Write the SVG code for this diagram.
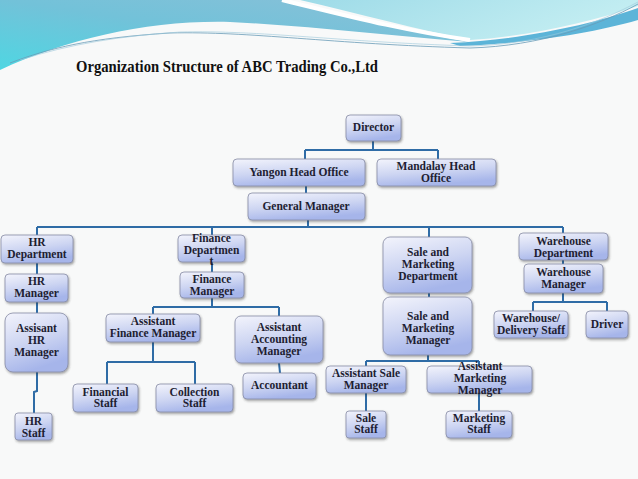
<svg xmlns="http://www.w3.org/2000/svg" width="638" height="479" viewBox="0 0 638 479">
<defs>
<linearGradient id="box" x1="0" y1="0" x2="0.35" y2="1">
<stop offset="0" stop-color="#f3f4fc"/>
<stop offset="0.55" stop-color="#cdd5f2"/>
<stop offset="1" stop-color="#a6b5ea"/>
</linearGradient>
<linearGradient id="tl" x1="1" y1="0" x2="0" y2="1">
<stop offset="0" stop-color="#8cc0d8"/>
<stop offset="0.5" stop-color="#72c2d9"/>
<stop offset="1" stop-color="#4fd6e2"/>
</linearGradient>
<linearGradient id="tr" x1="0" y1="0" x2="1" y2="0.3">
<stop offset="0" stop-color="#9edbe8"/>
<stop offset="1" stop-color="#c4eef2"/>
</linearGradient>
<filter id="sh" x="-10%" y="-10%" width="130%" height="140%">
<feDropShadow dx="1" dy="1.5" stdDeviation="1" flood-color="#333" flood-opacity="0.45"/>
</filter>
<style>
.n rect{fill:url(#box);stroke:#868ca4;stroke-width:0.8;filter:url(#sh)}
.n text{font-family:"Liberation Serif",serif;font-weight:bold;font-size:11.5px;fill:#1e1e32;text-anchor:middle}
#connectors path{fill:none;stroke:#2f6ca6;stroke-width:2}
.title{font-family:"Liberation Serif",serif;font-weight:bold;font-size:17.5px;fill:#111}
</style>
</defs>
<rect width="638" height="479" fill="#f8f9f9"/>
<g id="decor">
<path d="M300,0 H638 V6 C590,22 530,36 470,40 C420,30 360,14 300,0 Z" fill="url(#tr)"/>
<path d="M0,0 H285 C340,12 400,30 470,42 C390,36 310,26 230,22 C150,20 70,38 0,70 Z" fill="url(#tl)"/>
<path d="M282,0 C340,14 400,30 470,40" fill="none" stroke="#ffffff" stroke-width="4"/>
<path d="M450,43 C520,40 590,25 638,8 V20 C590,34 520,44 460,46 Z" fill="#5cb4d8"/>
<path d="M10,63 C50,48 90,38 170,33 C250,31 330,44 470,48 C540,46 600,25 638,4" fill="none" stroke="#6a9cb8" stroke-width="0.8"/>
<path d="M20,60 C70,44 120,36 180,32 C260,30 340,42 470,46 C545,44 600,22 638,2" fill="none" stroke="#9cc8da" stroke-width="0.6"/>
</g>
<text class="title" x="76" y="72" textLength="302" lengthAdjust="spacingAndGlyphs">Organization Structure of ABC Trading Co.,Ltd</text>
<g id="connectors">
<path d="M373,141 V150 M305,150 H438 M305,150 V159 M438,150 V159"/>
<path d="M306,186 V193"/>
<path d="M308,220 V227"/>
<path d="M37,227 H563"/>
<path d="M37,227 V235 M212,227 V235 M429,227 V237 M563,227 V233"/>
<path d="M37,263 V274 M37,302 V313"/>
<path d="M37,372 V391 L34,392 V413"/>
<path d="M212,262 V272"/>
<path d="M212,298 V307 M153,307 H279 M153,307 V314 M279,307 V316"/>
<path d="M153,342 V362 M107,362 H195 M107,362 V384 M195,362 V384"/>
<path d="M279,363 L280,373"/>
<path d="M429,293 V297"/>
<path d="M428,355 V361 M366,361 H479 M366,361 V366 M479,361 V366"/>
<path d="M366,393 V411 M479,393 V411"/>
<path d="M563,260 V264"/>
<path d="M563,293 V302 M533,302 H607 M533,302 V311 M607,302 V311"/>
</g>
<g id="director" class="n"><rect x="346" y="115" width="55" height="26" rx="4"/><text x="373.5" y="131">Director</text></g>
<g id="yangon" class="n"><rect x="233" y="159" width="132" height="27" rx="4"/><text x="299" y="176">Yangon Head Office</text></g>
<g id="mandalay" class="n"><rect x="377" y="159" width="119" height="27" rx="4"/><text x="436" y="170">Mandalay Head</text><text x="436" y="182">Office</text></g>
<g id="gm" class="n"><rect x="248" y="193" width="117" height="27" rx="4"/><text x="306" y="210">General Manager</text></g>
<g id="hr-dept" class="n"><rect x="1" y="235" width="72" height="28" rx="4"/><text x="37" y="246">HR</text><text x="37" y="258">Department</text></g>
<g id="hr-mgr" class="n"><rect x="5" y="274" width="63" height="28" rx="4"/><text x="36.5" y="285">HR</text><text x="36.5" y="297">Manager</text></g>
<g id="asst-hr-mgr" class="n"><rect x="5" y="313" width="63" height="59" rx="8"/><text x="36.5" y="332">Assisant</text><text x="36.5" y="344">HR</text><text x="36.5" y="356">Manager</text></g>
<g id="hr-staff" class="n"><rect x="15" y="413" width="37" height="27" rx="3"/><text x="33.5" y="425">HR</text><text x="33.5" y="437">Staff</text></g>
<g id="fin-dept" class="n"><rect x="178" y="235" width="67" height="27" rx="4"/><text x="211.5" y="242">Finance</text><text x="211.5" y="254">Departmen</text><text x="211.5" y="265">t</text></g>
<g id="fin-mgr" class="n"><rect x="180" y="272" width="64" height="26" rx="4"/><text x="212" y="283">Finance</text><text x="212" y="295">Manager</text></g>
<g id="asst-fin-mgr" class="n"><rect x="106" y="314" width="94" height="28" rx="4"/><text x="153" y="325">Assistant</text><text x="153" y="337">Finance Manager</text></g>
<g id="asst-acc-mgr" class="n"><rect x="235" y="316" width="88" height="47" rx="6"/><text x="279" y="331">Assistant</text><text x="279" y="343">Accounting</text><text x="279" y="355">Manager</text></g>
<g id="accountant" class="n"><rect x="243" y="373" width="73" height="26" rx="4"/><text x="279.5" y="389">Accountant</text></g>
<g id="fin-staff" class="n"><rect x="73" y="384" width="65" height="28" rx="4"/><text x="105.5" y="396">Financial</text><text x="105.5" y="407">Staff</text></g>
<g id="coll-staff" class="n"><rect x="156" y="384" width="77" height="28" rx="4"/><text x="194.5" y="396">Collection</text><text x="194.5" y="407">Staff</text></g>
<g id="sm-dept" class="n"><rect x="383" y="237" width="89" height="56" rx="7"/><text x="428" y="256">Sale and</text><text x="428" y="268">Marketing</text><text x="428" y="280">Department</text></g>
<g id="sm-mgr" class="n"><rect x="383" y="297" width="89" height="58" rx="7"/><text x="428" y="320">Sale and</text><text x="428" y="332">Marketing</text><text x="428" y="344">Manager</text></g>
<g id="asst-sale-mgr" class="n"><rect x="326" y="366" width="80" height="27" rx="4"/><text x="366" y="377">Assistant Sale</text><text x="366" y="389">Manager</text></g>
<g id="asst-mkt-mgr" class="n"><rect x="427" y="366" width="105" height="27" rx="4"/><text x="480" y="370">Assistant</text><text x="480" y="382">Marketing</text><text x="480" y="394">Manager</text></g>
<g id="sale-staff" class="n"><rect x="346" y="411" width="40" height="27" rx="3"/><text x="366" y="422">Sale</text><text x="366" y="433">Staff</text></g>
<g id="mkt-staff" class="n"><rect x="446" y="411" width="66" height="27" rx="4"/><text x="479" y="422">Marketing</text><text x="479" y="433">Staff</text></g>
<g id="wh-dept" class="n"><rect x="519" y="233" width="89" height="27" rx="4"/><text x="563.5" y="245">Warehouse</text><text x="563.5" y="257">Department</text></g>
<g id="wh-mgr" class="n"><rect x="524" y="264" width="79" height="29" rx="4"/><text x="563.5" y="276">Warehouse</text><text x="563.5" y="288">Manager</text></g>
<g id="wh-staff" class="n"><rect x="494" y="311" width="74" height="27" rx="4"/><text x="531" y="322">Warehouse/</text><text x="531" y="334">Delivery Staff</text></g>
<g id="driver" class="n"><rect x="586" y="311" width="42" height="27" rx="4"/><text x="607" y="328">Driver</text></g>
</svg>
